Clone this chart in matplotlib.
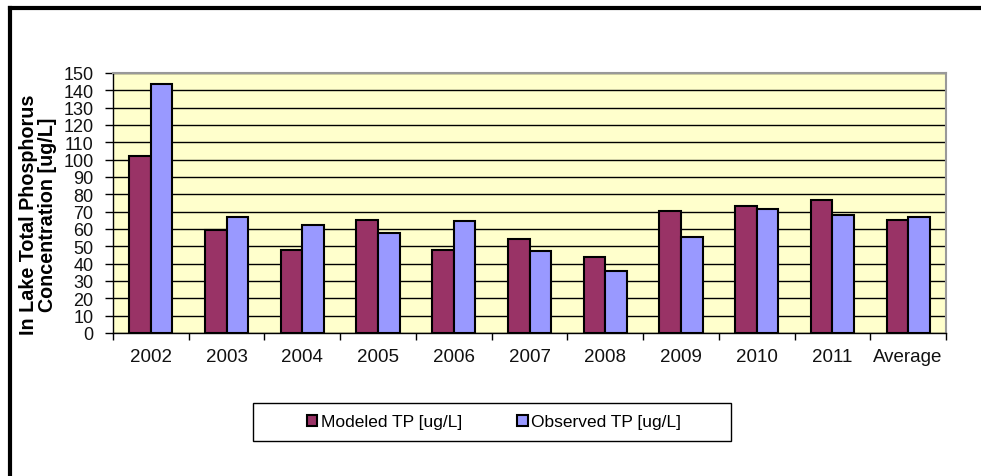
import numpy as np
import matplotlib.pyplot as plt
from matplotlib.lines import Line2D
from matplotlib.patches import Patch, Rectangle

plt.rcParams['font.family'] = ['Liberation Sans', 'DejaVu Sans']

years = ['2002', '2003', '2004', '2005', '2006', '2007', '2008', '2009', '2010', '2011', 'Average']
modeled = [102, 59.5, 48, 65, 48, 54.5, 44, 70.5, 73.5, 76.5, 65]
observed = [143.5, 67, 62.5, 57.5, 64.5, 47.5, 36, 55.5, 71.5, 68, 67]

W, H = 981, 477
fig = plt.figure(figsize=(W / 100, H / 100), dpi=100)
ax = fig.add_axes([113 / W, 1 - 334 / H, (946 - 113) / W, (334 - 74) / H])

x = np.arange(len(years))
w = 0.285
ax.bar(x - w / 2, modeled, w, color='#993366', edgecolor='black', linewidth=1.5, zorder=3)
ax.bar(x + w / 2, observed, w, color='#9999FF', edgecolor='black', linewidth=1.5, zorder=3)

ax.set_facecolor('#FFFFCC')
ax.set_xlim(-0.5, len(years) - 0.5)
ax.set_ylim(0, 150)
ax.set_yticks(np.arange(0, 151, 10))
ax.yaxis.grid(True, color='black', linewidth=1)
ax.set_axisbelow(True)

# tick marks between groups, labels centred under each group
ax.set_xticks(np.arange(-0.5, len(years), 1))
ax.set_xticklabels([])
ax.set_xticks(x, minor=True)
ax.set_xticklabels(years, minor=True, fontsize=13.5, color='#111111')
ax.tick_params(axis='x', which='minor', length=0, pad=11)
ax.tick_params(axis='x', which='major', length=5, width=1, direction='out')
ax.tick_params(axis='y', length=6, width=1, direction='out', labelsize=13,
               labelcolor='#111111', pad=8)

for s in ['top', 'right']:
    ax.spines[s].set_color('#999999')
    ax.spines[s].set_linewidth(1.5)
for s in ['left', 'bottom']:
    ax.spines[s].set_color('black')
    ax.spines[s].set_linewidth(1)

fig.text(38 / W, 1 - 215 / H, 'In Lake Total Phosphorus\nConcentration [ug/L]',
         rotation=90, ha='center', va='center', multialignment='center',
         fontsize=14.2, fontweight='bold', linespacing=1.0)

# legend box
fig.add_artist(Rectangle((253 / W, 1 - 442 / H), (731 - 253) / W, 38 / H,
                         transform=fig.transFigure, facecolor='white',
                         edgecolor='black', linewidth=1))
handles = [Patch(facecolor='#993366', edgecolor='black', linewidth=1.5),
           Patch(facecolor='#9999FF', edgecolor='black', linewidth=1.5)]
fig.legend(handles, ['Modeled TP [ug/L]', 'Observed TP [ug/L]'], ncol=2,
           loc='center', bbox_to_anchor=(494 / W, 1 - 423 / H),
           fontsize=12.5, frameon=False,
           handlelength=0.6, handleheight=0.6, handletextpad=0.2,
           columnspacing=3.2, borderaxespad=0)

# outer frame lines along the top and left
fig.add_artist(Line2D([9.5 / W, 1], [1 - 8.5 / H, 1 - 8.5 / H], color='black', linewidth=3))
fig.add_artist(Line2D([9.5 / W, 9.5 / W], [0, 1 - 8.5 / H], color='black', linewidth=3))

fig.savefig('out.png', dpi=100)
